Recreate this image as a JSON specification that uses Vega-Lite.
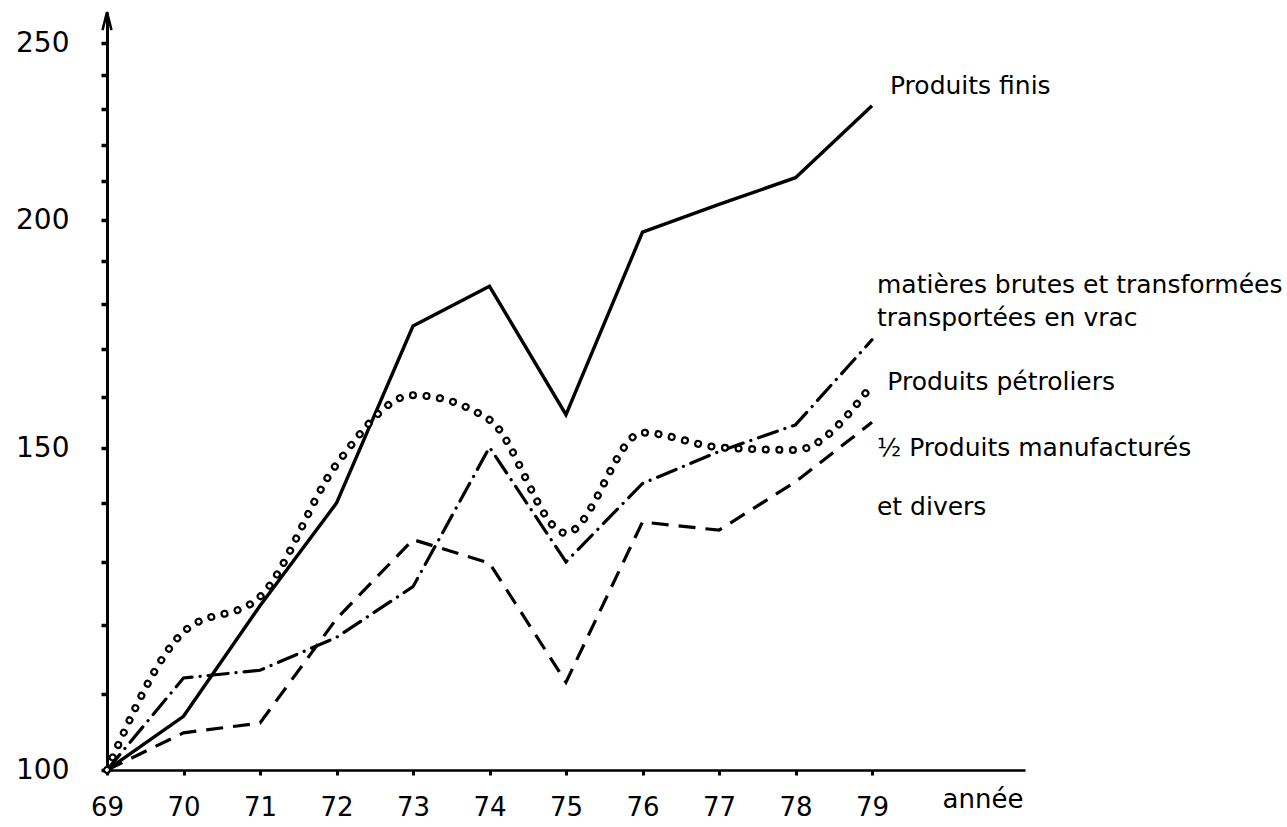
{
  "$schema": "https://vega.github.io/schema/vega-lite/v6.json",
  "width": 918,
  "height": 758,
  "autosize": {"type": "none"},
  "padding": {"left": 107, "top": 12, "right": 262, "bottom": 57},
  "background": "white",
  "config": {"view": {"stroke": null}, "font": "DejaVu Sans"},
  "datasets": {
    "series": [
      {"series": "finis", "year": 69, "value": 100},
      {"series": "finis", "year": 70, "value": 107},
      {"series": "finis", "year": 71, "value": 123},
      {"series": "finis", "year": 72, "value": 140},
      {"series": "finis", "year": 73, "value": 175},
      {"series": "finis", "year": 74, "value": 184},
      {"series": "finis", "year": 75, "value": 156.5},
      {"series": "finis", "year": 76, "value": 197},
      {"series": "finis", "year": 77, "value": 204},
      {"series": "finis", "year": 78, "value": 211},
      {"series": "finis", "year": 79, "value": 231},
      {"series": "petroliers", "year": 69, "value": 100},
      {"series": "petroliers", "year": 70, "value": 119},
      {"series": "petroliers", "year": 71, "value": 124.4},
      {"series": "petroliers", "year": 72, "value": 147},
      {"series": "petroliers", "year": 73, "value": 160.4},
      {"series": "petroliers", "year": 74, "value": 155.5},
      {"series": "petroliers", "year": 75, "value": 134.8},
      {"series": "petroliers", "year": 76, "value": 153},
      {"series": "petroliers", "year": 77, "value": 150.2},
      {"series": "petroliers", "year": 78, "value": 149.7},
      {"series": "petroliers", "year": 79, "value": 162.5},
      {"series": "vrac", "year": 69, "value": 100},
      {"series": "vrac", "year": 70, "value": 112.3},
      {"series": "vrac", "year": 71, "value": 113.4},
      {"series": "vrac", "year": 72, "value": 118.2},
      {"series": "vrac", "year": 73, "value": 126},
      {"series": "vrac", "year": 74, "value": 150.2},
      {"series": "vrac", "year": 75, "value": 130},
      {"series": "vrac", "year": 76, "value": 143.5},
      {"series": "vrac", "year": 77, "value": 149.4},
      {"series": "vrac", "year": 78, "value": 154.5},
      {"series": "vrac", "year": 79, "value": 172},
      {"series": "manufactures", "year": 69, "value": 100},
      {"series": "manufactures", "year": 70, "value": 104.8},
      {"series": "manufactures", "year": 71, "value": 106.1},
      {"series": "manufactures", "year": 72, "value": 121},
      {"series": "manufactures", "year": 73, "value": 133.7},
      {"series": "manufactures", "year": 74, "value": 129.8},
      {"series": "manufactures", "year": 75, "value": 111.7},
      {"series": "manufactures", "year": 76, "value": 136.7},
      {"series": "manufactures", "year": 77, "value": 135.3},
      {"series": "manufactures", "year": 78, "value": 143.8},
      {"series": "manufactures", "year": 79, "value": 155}
    ],
    "labels": [
      {"year": 79.235, "value": 236.8, "text": "Produits finis"},
      {"year": 79.065, "value": 184.3, "text": "matières brutes et transformées"},
      {"year": 79.065, "value": 176.8, "text": "transportées en vrac"},
      {"year": 79.2, "value": 163.1, "text": "Produits pétroliers"},
      {"year": 79.065, "value": 150.1, "text": "½ Produits manufacturés"},
      {"year": 79.065, "value": 139.3, "text": "et divers"}
    ],
    "arrow": [
      {"year": 69, "value": 256.7}
    ]
  },
  "encoding": {
    "x": {
      "field": "year",
      "type": "quantitative",
      "scale": {"domain": [69, 81], "nice": false, "zero": false},
      "axis": {
        "values": [69, 70, 71, 72, 73, 74, 75, 76, 77, 78, 79],
        "format": "d",
        "grid": false,
        "title": "année",
        "titleX": 916,
        "titleY": 37,
        "titleAlign": "right",
        "titleBaseline": "alphabetic",
        "titleFont": "DejaVu Sans",
        "titleFontSize": 26,
        "titleFontWeight": "normal",
        "titleColor": "black",
        "labelFont": "DejaVu Sans",
        "labelFontSize": 26,
        "labelColor": "black",
        "labelBaseline": "alphabetic",
        "labelPadding": 40,
        "labelFlush": false,
        "labelOverlap": false,
        "tickSize": 5,
        "tickWidth": 3,
        "tickColor": "black",
        "domainColor": "black",
        "domainWidth": 2.5
      }
    },
    "y": {
      "field": "value",
      "type": "quantitative",
      "scale": {"type": "log", "domain": [100, 260], "nice": false},
      "axis": {
        "values": [100, 110, 120, 130, 140, 150, 160, 170, 180, 190, 200, 210, 220, 230, 240, 250],
        "format": "d",
        "labelExpr": "datum.value % 50 === 0 ? datum.label : ''",
        "grid": false,
        "title": null,
        "labelFont": "DejaVu Sans",
        "labelFontSize": 28,
        "labelColor": "black",
        "labelPadding": 32,
        "labelBaseline": "middle",
        "labelOverlap": false,
        "labelFlush": false,
        "tickSize": 6,
        "tickWidth": 3.5,
        "tickColor": "black",
        "domainColor": "black",
        "domainWidth": 3
      }
    }
  },
  "layer": [
    {
      "data": {"name": "series"},
      "transform": [{"filter": "datum.series === 'finis'"}],
      "mark": {"type": "line", "color": "black", "strokeWidth": 3.4}
    },
    {
      "data": {"name": "series"},
      "transform": [{"filter": "datum.series === 'manufactures'"}],
      "mark": {"type": "line", "color": "black", "strokeWidth": 3.2, "strokeDash": [17, 10]}
    },
    {
      "data": {"name": "series"},
      "transform": [{"filter": "datum.series === 'vrac'"}],
      "mark": {"type": "line", "color": "black", "strokeWidth": 3.2, "strokeCap": "round", "strokeDash": [20, 8, 0.1, 8]}
    },
    {
      "data": {"name": "series"},
      "transform": [{"filter": "datum.series === 'petroliers'"}],
      "mark": {"type": "line", "color": "black", "strokeWidth": 8, "strokeCap": "round", "strokeDash": [0.1, 13.5], "interpolate": "monotone"}
    },
    {
      "data": {"name": "series"},
      "transform": [{"filter": "datum.series === 'petroliers'"}],
      "mark": {"type": "line", "color": "white", "strokeWidth": 3.6, "strokeCap": "round", "strokeDash": [0.1, 13.5], "interpolate": "monotone"}
    },
    {
      "data": {"name": "labels"},
      "mark": {"type": "text", "align": "left", "baseline": "middle", "font": "DejaVu Sans", "fontSize": 25, "color": "black"},
      "encoding": {"text": {"field": "text", "type": "nominal"}}
    },
    {
      "data": {"name": "arrow"},
      "mark": {"type": "point", "shape": "M-0.45,0.8L0,-1L0.45,0.8", "size": 400, "filled": false, "stroke": "black", "strokeWidth": 2.5, "opacity": 1}
    }
  ]
}
